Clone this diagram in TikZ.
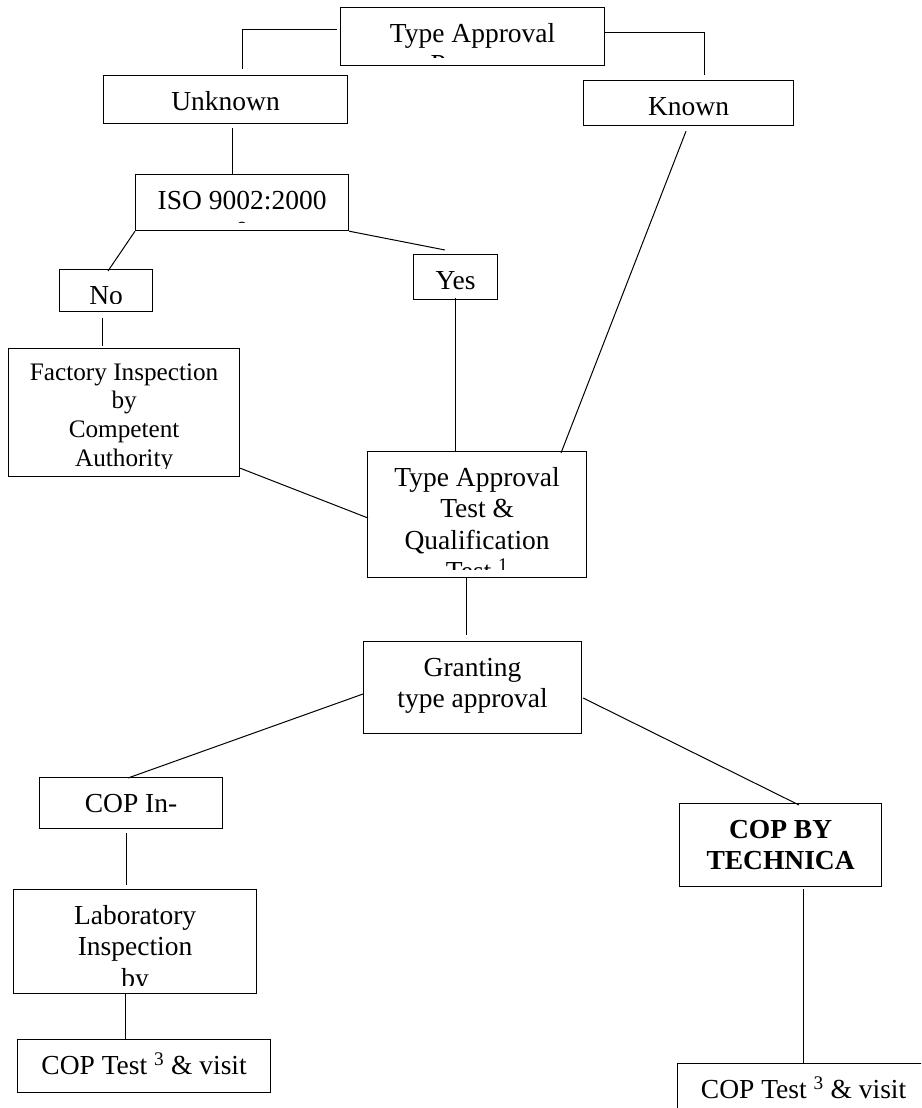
\documentclass[tikz,border=0pt]{standalone}
\usepackage{fontspec}
\setmainfont{Liberation Serif}
\usetikzlibrary{calc}

\begin{document}
\begin{tikzpicture}[x=1pt, y=-1pt,
  boxtext/.style={inner sep=0pt, anchor=north, align=center, draw=none,
    minimum width=0pt, minimum height=0pt,
    font=\fontsize{27.5}{31.5}\selectfont},
  flow/.style n args={3}{draw, line width=1.2pt, inner sep=0pt, anchor=north west,
    minimum width=#1, minimum height=#2,
    path picture={
      \clip (path picture bounding box.north west)
        rectangle ([yshift=8pt]path picture bounding box.south east);
      \node[boxtext] at ([yshift=-9pt]path picture bounding box.north)
        {\rule{0pt}{25pt}#3};}},
  link/.style={line width=1pt}]

\useasboundingbox (0,0) rectangle (921,1108);
\clip (0,0) rectangle (921,1108);

%--- Boxes ---
\node[flow={264pt}{58pt}{Type Approval\\Process}] (ta) at (340,7) {};
\node[flow={244pt}{48pt}{Unknown}] (unk) at (103,75) {};
\node[flow={210pt}{45pt}{Known}] (kn) at (583,80) {};
\node[flow={213pt}{56pt}{ISO 9002:2000\\0}] (iso) at (135,174) {};
\node[flow={93pt}{42pt}{No}] (no) at (59,269) {};
\node[flow={84pt}{45pt}{Yes}] (yes) at (413,254) {};

% smaller type in this one
\node[draw, line width=1.2pt, inner sep=0pt, anchor=north west,
  minimum width=231pt, minimum height=128pt,
  path picture={
    \clip (path picture bounding box.north west)
      rectangle ([yshift=8pt]path picture bounding box.south east);
    \node[boxtext, font=\fontsize{25.2}{28.7}\selectfont]
      at ([yshift=-6pt]path picture bounding box.north)
      {\rule{0pt}{25pt}Factory Inspection\\by\\Competent\\Authority};}] (fac) at (8,348) {};

\node[flow={219pt}{126pt}{Type Approval\\Test \&\\Qualification\\Test \textsuperscript{1}}] (tat) at (367,451) {};
\node[flow={218pt}{92pt}{Granting\\type approval}] (gr) at (363,641) {};
\node[flow={183pt}{51pt}{COP In-}] (copin) at (39,777) {};
\node[flow={202pt}{83pt}{\bfseries COP BY\\\bfseries TECHNICA}] (copby) at (679,803) {};
\node[flow={243pt}{104pt}{Laboratory\\Inspection\\by}] (lab) at (13,889) {};
\node[flow={253pt}{53pt}{COP Test \textsuperscript{3} \& visit\\2}] (copl) at (17,1039) {};
\node[flow={252pt}{60pt}{COP Test \textsuperscript{3} \& visit}] (copr) at (677,1063) {};

%--- Connectors ---
\draw[link] ($(ta.north west)+(-3,23)$) -| ($(unk.north west)+(139,-6)$);
\draw[link] ($(ta.north east)+(0,26)$) -| ($(kn.north west)+(121,-5)$);
\draw[link] ($(unk.south west)+(129,4)$) -- ($(iso.north west)+(97,0)$);
\draw[link] (iso.south west) -- ($(no.north west)+(49,2)$);
\draw[link] (iso.south east) -- ($(yes.north west)+(32,-4)$);
\draw[link] ($(no.south west)+(43,6)$) -- ($(fac.north west)+(94,-2)$);
\draw[link] ($(yes.south west)+(42,-2)$) -- ($(tat.north west)+(88,0)$);
\draw[link] ($(kn.south west)+(103,5)$) -- ($(tat.north west)+(194,2)$);
\draw[link] ($(fac.south east)+(0,-9)$) -- ($(tat.north west)+(1,67)$);
\draw[link] ($(tat.south west)+(99,0)$) -- ($(gr.north west)+(103,-6)$);
\draw[link] ($(gr.north west)+(0,53)$) -- ($(copin.north west)+(89,1)$);
\draw[link] ($(gr.north east)+(1,57)$) -- ($(copby.north west)+(120,2)$);
\draw[link] ($(copin.south west)+(87,4)$) -- ($(lab.north west)+(113,-4)$);
\draw[link] ($(lab.south west)+(112,0)$) -- ($(copl.north west)+(108,0)$);
\draw[link] ($(copby.south west)+(124,2)$) -- ($(copr.north west)+(126,0)$);

\end{tikzpicture}
\end{document}
